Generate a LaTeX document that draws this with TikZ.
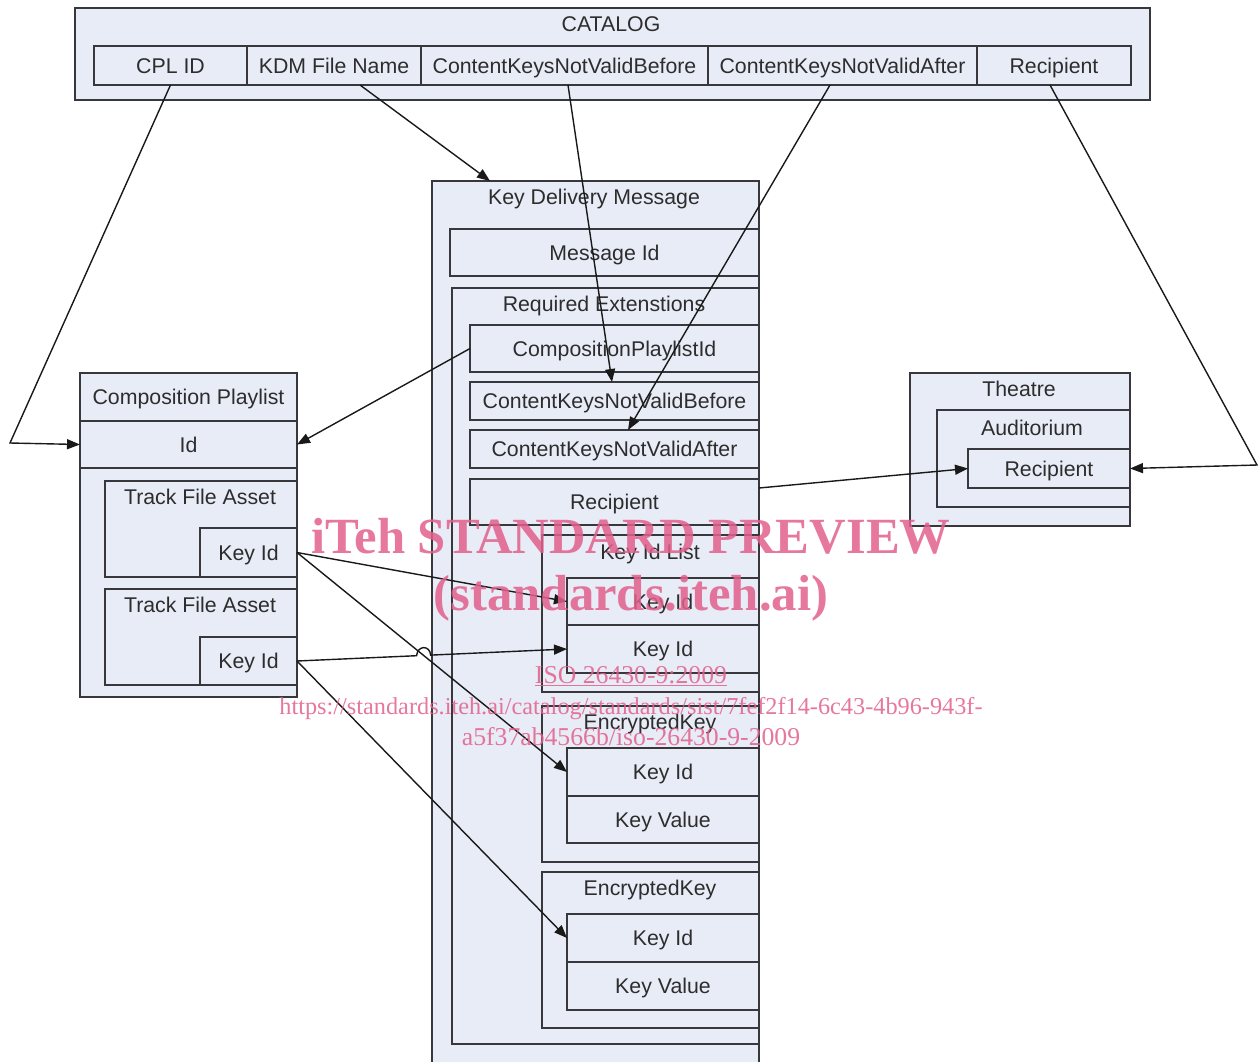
\documentclass[tikz,border=0pt]{standalone}
\usepackage{fontspec}
\setmainfont{Liberation Sans}
\newfontfamily\wmfont{Liberation Serif}
\usetikzlibrary{arrows.meta,calc}
\definecolor{boxfill}{RGB}{232,236,246}
\definecolor{linec}{RGB}{55,55,60}
\definecolor{txt}{RGB}{45,45,45}
\definecolor{wmpink}{RGB}{226,96,140}
\newcommand\bx[6]{\node[box,minimum width={(#4-#2)*1pt},minimum height={(#5-#3)*1pt}] (#1) at ({(#2+#4)/2},{(#3+#5)/2}) {#6};}
\begin{document}
\begin{tikzpicture}[x=1pt,y=-1pt,
  box/.style={draw=linec,fill=boxfill,line width=2pt,inner sep=0pt,outer sep=0pt,
    font=\fontsize{21.3}{24}\selectfont,text=txt,text height=15.2pt,text depth=0pt},
  ttl/.style={inner sep=0pt,font=\fontsize{21.3}{24}\selectfont,text=txt,text height=15.2pt,text depth=0pt},
  conn/.style={draw=black!90,line width=1.4pt,-{Triangle[length=13pt,width=10pt]}},
  wm/.style={text=wmpink,opacity=0.85,inner sep=0pt,anchor=base}]
\useasboundingbox (0,0) rectangle (1258,1061);
\clip (0,0) rectangle (1258,1061);
% CATALOG
\bx{cat}{75}{8}{1150}{100}{}
\node[ttl] (catt) at (611,24) {CATALOG};
\bx{c1}{94}{46}{247}{85}{CPL ID}
\bx{c2}{247}{46}{421}{85}{KDM File Name}
\bx{c3}{421}{46}{708}{85}{ContentKeysNotValidBefore}
\bx{c4}{708}{46}{977}{85}{ContentKeysNotValidAfter}
\bx{c5}{977}{46}{1131}{85}{Recipient}
% Key Delivery Message
\bx{kdm}{432}{181}{759}{1075}{}
\node[ttl] (kdmt) at (594,197) {Key Delivery Message};
\bx{msgid}{450}{229}{759}{276}{Message Id}
\bx{reqext}{452}{288}{759}{1044}{}
\node[ttl] (reqt) at (604,304) {Required Extenstions};
\bx{cplidr}{470}{325}{759}{372}{CompositionPlaylistId}
\bx{kb}{470}{382}{759}{420}{ContentKeysNotValidBefore}
\bx{ka}{470}{430}{759}{468}{ContentKeysNotValidAfter}
\bx{krec}{470}{479}{759}{525}{Recipient}
\bx{kil}{542}{535}{759}{692}{}
\node[ttl] (kilt) at (650,552) {Key Id List};
\bx{kid1}{567}{578}{759}{625}{Key Id}
\bx{kid2}{567}{625}{759}{673}{Key Id}
\bx{ek1}{542}{706}{759}{862}{}
\node[ttl] (ek1t) at (650,722) {EncryptedKey};
\bx{ek1id}{567}{748}{759}{796}{Key Id}
\bx{ek1val}{567}{796}{759}{843}{Key Value}
\bx{ek2}{542}{872}{759}{1028}{}
\node[ttl] (ek2t) at (650,888) {EncryptedKey};
\bx{ek2id}{567}{914}{759}{962}{Key Id}
\bx{ek2val}{567}{962}{759}{1010}{Key Value}
% Composition Playlist
\bx{cpl}{80}{373}{297}{697}{}
\bx{cplt}{80}{373}{297}{421}{Composition Playlist}
\bx{cplid}{80}{421}{297}{468}{Id}
\bx{tfa1}{105}{481}{297}{577}{}
\node[ttl] (tfa1t) at (200,497) {Track File Asset};
\bx{tk1}{200}{528}{297}{577}{Key Id}
\bx{tfa2}{105}{589}{297}{685}{}
\node[ttl] (tfa2t) at (200,605) {Track File Asset};
\bx{tk2}{200}{637}{297}{685}{Key Id}
% Theatre
\bx{th}{910}{373}{1130}{526}{}
\node[ttl] (tht) at (1019,389) {Theatre};
\bx{aud}{937}{410}{1130}{507}{}
\node[ttl] (audt) at (1032,428) {Auditorium};
\bx{trec}{968}{449}{1130}{488}{Recipient}
% connectors
\coordinate (cA) at (10,443);
\coordinate (cB) at (1257,465);
\coordinate (hopa) at (416.6,655.7);
\coordinate (hopb) at (430.6,655.1);
\draw[conn] (c1.south) -- (cA) -- (cplid.west);
\draw[conn] ($(c2.south)+(26,0)$) -- ($(kdm.north west)+(58,0)$);
\draw[conn] ($(c3.south)+(3.5,0)$) -- ($(kb.north)+(-2.5,0)$);
\draw[conn] ($(c4.south)+(-12.5,0)$) -- ($(ka.north)+(13.5,0)$);
\draw[conn] ($(c5.south)+(-4,0)$) -- (cB) -- (trec.east);
\draw[conn] (cplidr.west) -- (cplid.east);
\draw[conn] ($(krec.north east)+(0,9)$) -- (trec.west);
\draw[conn] (tk1.east) -- (kid1.west);
\draw[conn] (tk1.east) -- (ek1id.west);
\draw[conn] (tk2.east) -- (hopa) .. controls (417.5,645) and (430,645) .. (hopb) -- (kid2.west);
\draw[conn] (tk2.east) -- (ek2id.west);
% watermark
\node[wm,font=\wmfont\bfseries\fontsize{50.7}{56}\selectfont] (wm1) at (631,553) {iTeh STANDARD PREVIEW};
\node[wm,font=\wmfont\bfseries\fontsize{50.7}{56}\selectfont] (wm2) at (631,610) {(standards.iteh.ai)};
\node[wm,font=\wmfont\fontsize{25.7}{28}\selectfont] (wm3) at (631,683) {\underline{ISO 26430-9:2009}};
\node[wm,font=\wmfont\fontsize{24.3}{28}\selectfont] (wm4) at (631,714) {https://standards.iteh.ai/catalog/standards/sist/7fef2f14-6c43-4b96-943f-};
\node[wm,font=\wmfont\fontsize{25.7}{28}\selectfont] (wm5) at (631,745) {a5f37ab4566b/iso-26430-9-2009};
\end{tikzpicture}
\end{document}
